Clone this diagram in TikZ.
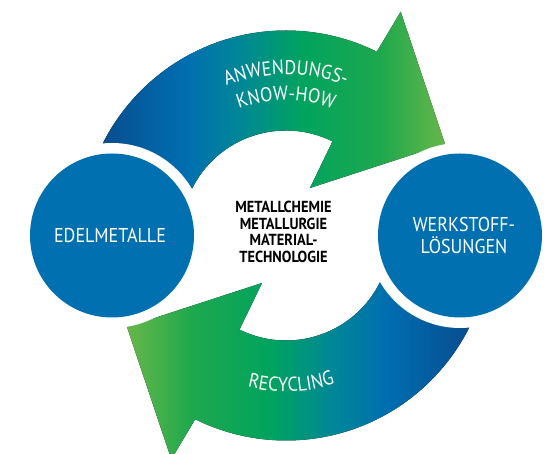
\documentclass[tikz,border=0pt]{standalone}
\usepackage{fontspec}
\setmainfont{PT Sans}[FakeStretch=0.9]
\usetikzlibrary{decorations.text}
\definecolor{g1}{RGB}{8,76,142}
\definecolor{g2}{RGB}{0,110,176}
\definecolor{g3}{RGB}{0,135,150}
\definecolor{g4}{RGB}{0,163,95}
\definecolor{g5}{RGB}{30,168,78}
\definecolor{g6}{RGB}{108,184,72}
\definecolor{circ}{RGB}{0,112,176}
\pgfdeclarehorizontalshading{arrowgrad}{100bp}{color(0bp)=(g1); color(30.95bp)=(g1); color(41.07bp)=(g2); color(47.62bp)=(g3); color(54.76bp)=(g4); color(64.29bp)=(g5); color(72.62bp)=(g6); color(100bp)=(g6)}
\pgfdeclarehorizontalshading{arrowgradrev}{100bp}{color(0bp)=(g6); color(27.38bp)=(g6); color(35.71bp)=(g5); color(45.24bp)=(g4); color(52.38bp)=(g3); color(58.93bp)=(g2); color(69.05bp)=(g1); color(100bp)=(g1)}
\tikzset{
  bigcirc/.style={circle, fill=circ, minimum size=164pt, inner sep=0pt},
  ringwhite/.style={fill=white},
  circtext/.style={text=white, font=\fontsize{20}{22}\selectfont, align=center},
  coretext/.style={text=black, font=\bfseries\fontsize{16}{16.8}\selectfont, align=center},
  arctext/.style={decorate, decoration={text along path, text align=center, text color=white}}
}
\begin{document}
\begin{tikzpicture}[x=1pt, y=1pt]
\useasboundingbox (0,0) rectangle (550,454);
\coordinate (C) at (286,218.5);
\coordinate (L) at (112,218.5);
\coordinate (R) at (460,218.5);
% arrows
\begin{scope}[shift={(C)}]
  \begin{scope}
    \clip (180:205) arc[start angle=180, end angle=63.7, radius=205]
      -- (114.7,223.8) -- (159,91.5) -- (24,47.5)
      -- (63.7:105) arc[start angle=63.7, end angle=180, radius=105] -- cycle;
    \fill[shading=arrowgrad] (-236,-230) rectangle (184,240);
  \end{scope}
  \begin{scope}
    \clip (0:205) arc[start angle=0, end angle=-116.3, radius=205]
      -- (-114.7,-223.8) -- (-159,-91.5) -- (-24,-47.5)
      -- (-116.3:105) arc[start angle=-116.3, end angle=0, radius=105] -- cycle;
    \fill[shading=arrowgradrev] (-184,-240) rectangle (236,230);
  \end{scope}
  \path[arctext, decoration={text={|\fontsize{20}{20}\selectfont|ANWENDUNGS-}}]
    (140:161) arc[start angle=140, end angle=40, radius=161];
  \path[arctext, decoration={text={|\fontsize{20}{20}\selectfont|KNOW-HOW}}]
    (140:135) arc[start angle=140, end angle=40, radius=135];
  \path[arctext, decoration={text={|\fontsize{20}{20}\selectfont|RECYCLING}}]
    (222:156) arc[start angle=222, end angle=322, radius=156];
\end{scope}
% circles
\fill[ringwhite] (L) circle[radius=92.5];
\fill[ringwhite] (R) circle[radius=92.5];
\node[bigcirc] (edel) at (L) {};
\node[bigcirc] (werk) at (R) {};
\node[circtext] (edeltext) at (110,219) {EDELMETALLE};
\node[circtext] (werktext) at (464,218.5) {WERKSTOFF-\\LÖSUNGEN};
\node[coretext] (core) at (283.5,222) {METALLCHEMIE\\METALLURGIE\\MATERIAL-\\TECHNOLOGIE};
\end{tikzpicture}
\end{document}
